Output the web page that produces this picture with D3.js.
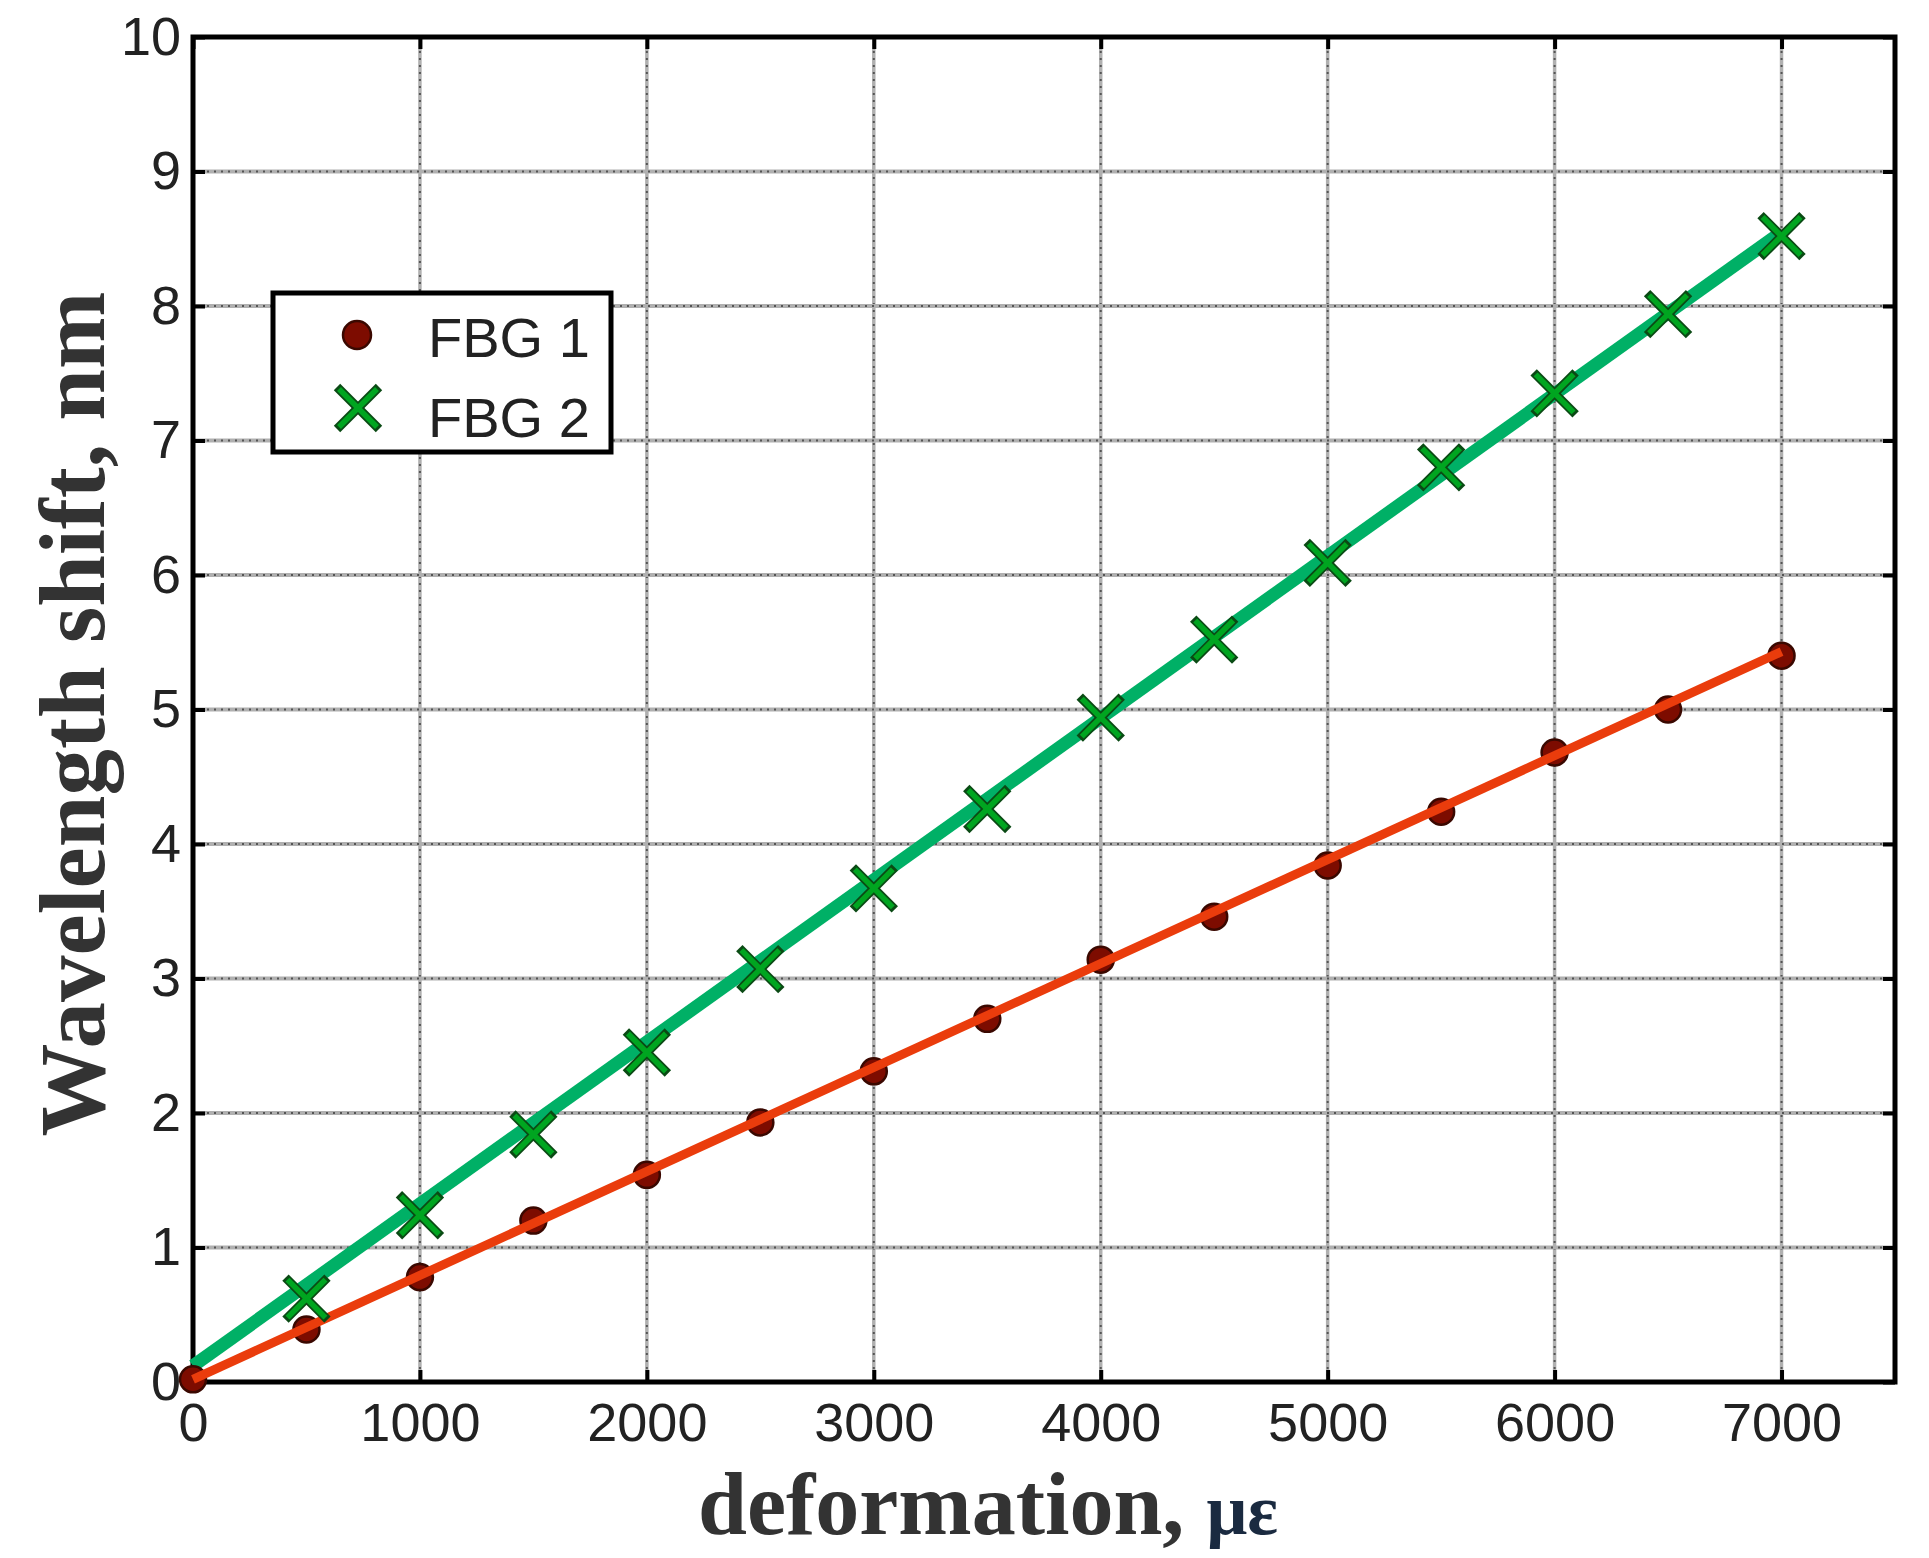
<!DOCTYPE html>
<html>
<head>
<meta charset="utf-8">
<script src="https://cdn.jsdelivr.net/npm/d3@7"></script>
<style>
  body { margin: 0; background: #fff; }
  svg { display: block; }
  .tick text { font-family: "Liberation Sans", Arial, sans-serif; font-size: 54px; fill: #222; }
  .axisTitle { font-family: "Liberation Serif", "Times New Roman", serif; font-weight: bold; fill: #333; }
</style>
</head>
<body>
<svg id="chart"></svg>
<script>
// values
var strain = [0, 500, 1000, 1500, 2000, 2500, 3000, 3500, 4000, 4500, 5000, 5500, 6000, 6500, 7000];
var fbg1 = [0.02, 0.39, 0.78, 1.20, 1.54, 1.93, 2.31, 2.70, 3.14, 3.46, 3.84, 4.24, 4.68, 5.00, 5.40];
var fbg2 = [0.05, 0.62, 1.24, 1.84, 2.45, 3.07, 3.67, 4.26, 4.94, 5.52, 6.09, 6.80, 7.35, 7.94, 8.52];
// fitted straight lines (end points)
var fitX = [0, 7000];
var fit1 = [0.02, 5.43];
var fit2 = [0.12, 8.55];
var xTicks = [0, 1000, 2000, 3000, 4000, 5000, 6000, 7000];
var yTicks = [0, 1, 2, 3, 4, 5, 6, 7, 8, 9, 10];
var legendNames = ["FBG 1", "FBG 2"];

var W = 1929, H = 1558;
var margin = {top: 37, right: 34, bottom: 176, left: 193};

var svg = d3.select("#chart").attr("width", W).attr("height", H);

var x = d3.scaleLinear().domain([0, 7500]).range([margin.left, W - margin.right]);
var y = d3.scaleLinear().domain([0, 10]).range([H - margin.bottom, margin.top]);

var red = "#ea3c0c", dark = "#7d0c00", green = "#00b066", xGreen = "#00a520";

// grid
var grid = svg.append("g").attr("class", "grid");
xTicks.slice(1).forEach(function(t){
  grid.append("line").attr("x1", x(t)).attr("x2", x(t)).attr("y1", y(10)).attr("y2", y(0))
      .attr("stroke", "#b0b0b0").attr("stroke-width", 3.5);
  grid.append("line").attr("x1", x(t)).attr("x2", x(t)).attr("y1", y(10)).attr("y2", y(0))
      .attr("stroke", "#555").attr("stroke-width", 2).attr("stroke-dasharray", "2,5");
});
yTicks.slice(1, -1).forEach(function(t){
  grid.append("line").attr("x1", x(0)).attr("x2", x(7500)).attr("y1", y(t)).attr("y2", y(t))
      .attr("stroke", "#b0b0b0").attr("stroke-width", 4);
  grid.append("line").attr("x1", x(0)).attr("x2", x(7500)).attr("y1", y(t)).attr("y2", y(t))
      .attr("stroke", "#555").attr("stroke-width", 2).attr("stroke-dasharray", "2,5");
});

// axes with inward ticks
svg.append("g").attr("transform", "translate(0," + y(0) + ")")
   .call(d3.axisBottom(x).tickValues(xTicks).tickFormat(d3.format("d")).tickSize(-12).tickPadding(21));
svg.append("g").attr("transform", "translate(" + x(0) + ",0)")
   .call(d3.axisLeft(y).tickValues(yTicks).tickFormat(d3.format("d")).tickSize(-12).tickPadding(12));
svg.append("g").attr("transform", "translate(0," + y(10) + ")")
   .call(d3.axisTop(x).tickValues(xTicks).tickSize(-12).tickFormat(""));
svg.append("g").attr("transform", "translate(" + x(7500) + ",0)")
   .call(d3.axisRight(y).tickValues(yTicks).tickSize(-12).tickFormat(""));
svg.selectAll(".domain").remove();
svg.selectAll(".tick line").attr("stroke", "#000").attr("stroke-width", 4);

// frame
svg.append("rect").attr("x", x(0)).attr("y", y(10))
   .attr("width", x(7500) - x(0)).attr("height", y(0) - y(10))
   .attr("fill", "none").attr("stroke", "#000").attr("stroke-width", 5);

// lines
var line = d3.line().x(function(d){ return x(d[0]); }).y(function(d){ return y(d[1]); });
svg.append("path").datum(d3.zip(fitX, fit2)).attr("d", line)
   .attr("stroke", green).attr("stroke-width", 13).attr("fill", "none");

svg.append("g").selectAll("circle").data(d3.zip(strain, fbg1)).enter().append("circle")
   .attr("cx", function(d){ return x(d[0]); }).attr("cy", function(d){ return y(d[1]); })
   .attr("r", 13).attr("fill", dark).attr("stroke", "#3a0800").attr("stroke-width", 2.5);

svg.append("path").datum(d3.zip(fitX, fit1)).attr("d", line)
   .attr("stroke", red).attr("stroke-width", 9).attr("fill", "none");

function cross(g, cx, cy, s) {
  [[-1, -1, 1, 1], [-1, 1, 1, -1]].forEach(function(k){
    g.append("line").attr("x1", cx + k[0]*s).attr("y1", cy + k[1]*s)
     .attr("x2", cx + k[2]*s).attr("y2", cy + k[3]*s)
     .attr("stroke", "#0a4a14").attr("stroke-width", 9);
  });
  [[-1, -1, 1, 1], [-1, 1, 1, -1]].forEach(function(k){
    g.append("line").attr("x1", cx + k[0]*(s-2)).attr("y1", cy + k[1]*(s-2))
     .attr("x2", cx + k[2]*(s-2)).attr("y2", cy + k[3]*(s-2))
     .attr("stroke", xGreen).attr("stroke-width", 5.5);
  });
}
var marks = svg.append("g");
d3.zip(strain, fbg2).slice(1).forEach(function(d){ cross(marks, x(d[0]), y(d[1]), 21); });

// legend
var lg = svg.append("g");
lg.append("rect").attr("x", 273).attr("y", 293).attr("width", 338).attr("height", 159)
  .attr("fill", "#fff").attr("stroke", "#000").attr("stroke-width", 5);
lg.append("circle").attr("cx", 357).attr("cy", 335).attr("r", 14)
  .attr("fill", dark).attr("stroke", "#3a0800").attr("stroke-width", 2.5);
cross(lg, 358, 408, 21);
legendNames.forEach(function(n, i){
  lg.append("text").attr("x", 428).attr("y", 357 + i * 80).text(n)
    .attr("font-family", "Liberation Sans, Arial, sans-serif").attr("font-size", 56).attr("fill", "#222");
});

// axis titles
var xt = svg.append("text").attr("class", "axisTitle").attr("x", 698).attr("y", 1534).attr("font-size", 88);
xt.append("tspan").text("deformation, ");
xt.append("tspan").text("με").attr("font-size", 72).attr("fill", "#1a2a40");

svg.append("text").attr("class", "axisTitle")
   .attr("transform", "translate(104,714) rotate(-90)")
   .attr("text-anchor", "middle").attr("font-size", 93)
   .text("Wavelength shift, nm");
</script>
</body>
</html>
